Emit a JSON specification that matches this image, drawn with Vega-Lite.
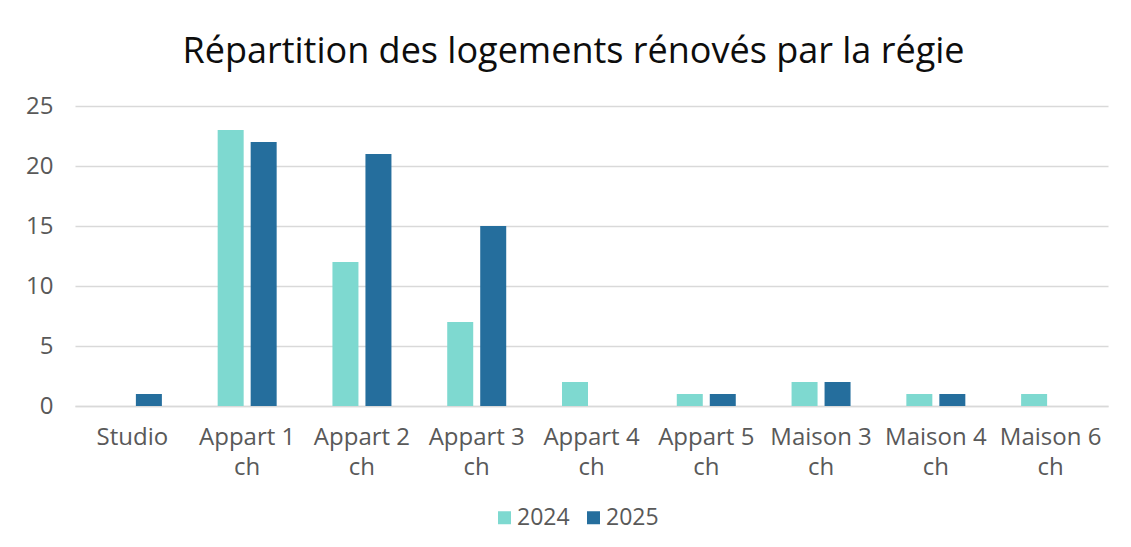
{
  "$schema": "https://vega.github.io/schema/vega-lite/v6.json",
  "width": 1033,
  "height": 300,
  "autosize": {"type": "none"},
  "padding": {"left": 75, "top": 106, "right": 23, "bottom": 141},
  "background": "white",
  "title": {
    "text": "Répartition des logements rénovés par la régie",
    "font": "Open Sans",
    "fontSize": 36,
    "fontWeight": "normal",
    "color": "#0d0d0d",
    "anchor": "middle",
    "baseline": "alphabetic",
    "offset": -5,
    "dx": -18
  },
  "data": {
    "values": [
      {"type": "Studio", "year": "2024", "count": 0},
      {"type": "Studio", "year": "2025", "count": 1},
      {"type": "Appart 1 ch", "year": "2024", "count": 23},
      {"type": "Appart 1 ch", "year": "2025", "count": 22},
      {"type": "Appart 2 ch", "year": "2024", "count": 12},
      {"type": "Appart 2 ch", "year": "2025", "count": 21},
      {"type": "Appart 3 ch", "year": "2024", "count": 7},
      {"type": "Appart 3 ch", "year": "2025", "count": 15},
      {"type": "Appart 4 ch", "year": "2024", "count": 2},
      {"type": "Appart 4 ch", "year": "2025", "count": 0},
      {"type": "Appart 5 ch", "year": "2024", "count": 1},
      {"type": "Appart 5 ch", "year": "2025", "count": 1},
      {"type": "Maison 3 ch", "year": "2024", "count": 2},
      {"type": "Maison 3 ch", "year": "2025", "count": 2},
      {"type": "Maison 4 ch", "year": "2024", "count": 1},
      {"type": "Maison 4 ch", "year": "2025", "count": 1},
      {"type": "Maison 6 ch", "year": "2024", "count": 1},
      {"type": "Maison 6 ch", "year": "2025", "count": 0}
    ]
  },
  "mark": {"type": "bar"},
  "encoding": {
    "x": {
      "field": "type",
      "type": "nominal",
      "sort": null,
      "scale": {"paddingInner": 0.486, "paddingOuter": 0.243},
      "axis": {
        "title": null,
        "labelAngle": 0,
        "labelFont": "Open Sans",
        "labelFontSize": 24,
        "labelColor": "#595959",
        "labelPadding": 19,
        "labelLineHeight": 30,
        "labelExpr": "indexof(datum.label, ' ch') > 0 ? [replace(datum.label, ' ch', ''), 'ch'] : datum.label",
        "ticks": false,
        "domainColor": "#d9d9d9",
        "domainWidth": 1.5,
        "grid": false
      }
    },
    "xOffset": {
      "field": "year",
      "type": "nominal",
      "scale": {"paddingInner": 0.212, "paddingOuter": 0}
    },
    "y": {
      "field": "count",
      "type": "quantitative",
      "scale": {"domain": [0, 25]},
      "axis": {
        "title": null,
        "values": [0, 5, 10, 15, 20, 25],
        "labelFont": "Open Sans",
        "labelFontSize": 24,
        "labelColor": "#595959",
        "labelPadding": 22,
        "ticks": false,
        "domain": false,
        "gridColor": "#d9d9d9",
        "gridWidth": 1.5
      }
    },
    "color": {
      "field": "year",
      "type": "nominal",
      "scale": {"domain": ["2024", "2025"], "range": ["#7ed9d0", "#256e9d"]},
      "legend": {
        "title": null,
        "orient": "none",
        "direction": "horizontal",
        "legendX": 418,
        "legendY": 400,
        "symbolType": "square",
        "symbolSize": 169,
        "symbolStrokeWidth": 0,
        "labelFont": "Open Sans",
        "labelFontSize": 23,
        "labelColor": "#595959",
        "labelOffset": 1,
        "columnPadding": 12
      }
    }
  },
  "config": {
    "view": {"stroke": null}
  }
}
